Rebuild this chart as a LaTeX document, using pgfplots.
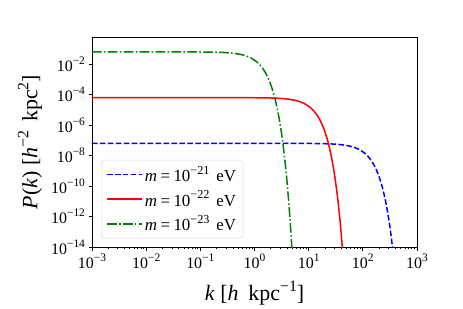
\documentclass[border=0pt]{standalone}
\usepackage{fontspec}
\setmainfont{Liberation Serif}
\usepackage{graphicx}
\usepackage{pgfplots}
\pgfplotsset{compat=1.18}
\definecolor{mplgreen}{RGB}{0,128,0}
\definecolor{mplblue}{RGB}{0,0,255}
\definecolor{mplred}{RGB}{255,0,0}
\newcommand{\sups}[1]{\raisebox{0.42em}{\scalebox{0.72}{#1}}}
\newcommand{\leg}[1]{\fontsize{17}{17}\selectfont\textit{m}\kern3.5pt=\kern3.5pt10\sups{−#1}\hspace{0.4em}eV}

\begin{document}
\begin{tikzpicture}
\useasboundingbox (-92bp,-62bp) rectangle (371bp,247bp);
\begin{axis}[
  at={(0,0)}, anchor=south west,
  scale only axis, width=325bp, height=210bp,
  xmode=log, ymode=log,
  xmin=1e-3, xmax=1e3, ymin=1e-14, ymax=0.6,
  xtick={1e-3,1e-2,1e-1,1,10,100,1000},
  xticklabels={10\sups{−3},10\sups{−2},10\sups{−1},10\sups{0},10\sups{1},10\sups{2},10\sups{3}},
  ytick={1e-14,1e-12,1e-10,1e-8,1e-6,1e-4,1e-2},
  yticklabels={10\sups{−14},10\sups{−12},10\sups{−10},10\sups{−8},10\sups{−6},10\sups{−4},10\sups{−2}},
  yminorticks=false,
  tick align=outside, tick pos=left,
  major tick length=3.5bp, minor tick length=2bp,
  tick style={black, line width=0.8bp},
  ticklabel style={font=\fontsize{16}{16}\selectfont},
  axis line style={line width=0.8bp},
  xlabel={\textit{k} [\textit{h}\hspace{0.45em}kpc\sups{−1}]},
  ylabel={\textit{P}(\textit{k}) [\textit{h}\sups{−2}\hspace{0.4em}kpc\sups{2}]},
  every axis x label/.style={at={(rel axis cs:0.5,0)}, yshift=-46bp, anchor=center, font=\fontsize{22}{22}\selectfont},
  every axis y label/.style={at={(rel axis cs:0,0.5)}, xshift=-62bp, anchor=center, rotate=90, font=\fontsize{22}{22}\selectfont},
  legend cell align=left,
  legend image code/.code={\draw[#1] (0bp,0bp) -- (35bp,0bp);},
  legend style={at={(0.028,0.041)}, anchor=south west, draw=black!15, rounded corners=3bp,
    fill=white, font=\fontsize{15}{15}\selectfont, row sep=4bp, inner xsep=5bp, inner ysep=4bp,
    /tikz/every even column/.append style={column sep=6bp}},
]
\addlegendimage{color=mplblue, line width=1.5bp, dash pattern=on 5.55bp off 2.4bp}
\addlegendentry{\leg{21}}
\addlegendimage{color=mplred, line width=1.5bp}
\addlegendentry{\leg{22}}
\addlegendimage{color=mplgreen, line width=1.5bp, dash pattern=on 9.6bp off 2.4bp on 1.5bp off 2.4bp}
\addlegendentry{\leg{23}}
\addplot[forget plot, color=mplblue, line width=1.5bp, dash pattern=on 5.55bp off 2.4bp] coordinates {
(0.001,6.31e-8)(8.9,6.248e-8)(17.8,6.062e-8)(26.7,5.767e-8)(35.6,5.376e-8)(44.5,4.913e-8)(53.4,4.401e-8)(62.3,3.866e-8)(71.2,3.327e-8)(80.1,2.807e-8)(89,2.321e-8)(106.8,1.495e-8)(124.6,8.888e-9)(142.4,4.878e-9)(160.2,2.471e-9)(178,1.156e-9)(200.25,3.995e-10)(222.5,1.218e-10)(244.75,3.278e-11)(267,7.784e-12)(289.25,1.632e-12)(311.5,3.019e-13)(333.75,4.929e-14)(356,7.099e-15)
};
\addplot[forget plot, color=mplred, line width=1.5bp] coordinates {
(0.001,6.31e-5)(0.88,6.248e-5)(1.76,6.062e-5)(2.64,5.767e-5)(3.52,5.376e-5)(4.4,4.913e-5)(5.28,4.401e-5)(6.16,3.866e-5)(7.04,3.327e-5)(7.92,2.807e-5)(8.8,2.321e-5)(10.56,1.495e-5)(12.32,8.888e-6)(14.08,4.878e-6)(15.84,2.471e-6)(17.6,1.156e-6)(19.8,3.995e-7)(22,1.218e-7)(24.2,3.278e-8)(26.4,7.784e-9)(28.6,1.632e-9)(30.8,3.019e-10)(33,4.929e-11)(35.2,7.099e-12)(37.4,9.027e-13)(39.6,1.012e-13)(41.8,1.003e-14)(44,8.770e-16)
};
\addplot[forget plot, color=mplgreen, line width=1.5bp, dash pattern=on 9.6bp off 2.4bp on 1.5bp off 2.4bp] coordinates {
(0.001,6.31e-2)(0.09,6.248e-2)(0.18,6.062e-2)(0.27,5.767e-2)(0.36,5.376e-2)(0.45,4.913e-2)(0.54,4.401e-2)(0.63,3.866e-2)(0.72,3.327e-2)(0.81,2.807e-2)(0.9,2.321e-2)(1.08,1.495e-2)(1.26,8.888e-3)(1.44,4.878e-3)(1.62,2.471e-3)(1.8,1.156e-3)(2.025,3.995e-4)(2.25,1.218e-4)(2.475,3.278e-5)(2.7,7.784e-6)(2.925,1.632e-6)(3.15,3.019e-7)(3.375,4.929e-8)(3.6,7.099e-9)(3.825,9.027e-10)(4.05,1.012e-10)(4.275,1.003e-11)(4.5,8.770e-13)(4.725,6.761e-14)(4.95,4.592e-15)
};
\end{axis}
\end{tikzpicture}
\end{document}
